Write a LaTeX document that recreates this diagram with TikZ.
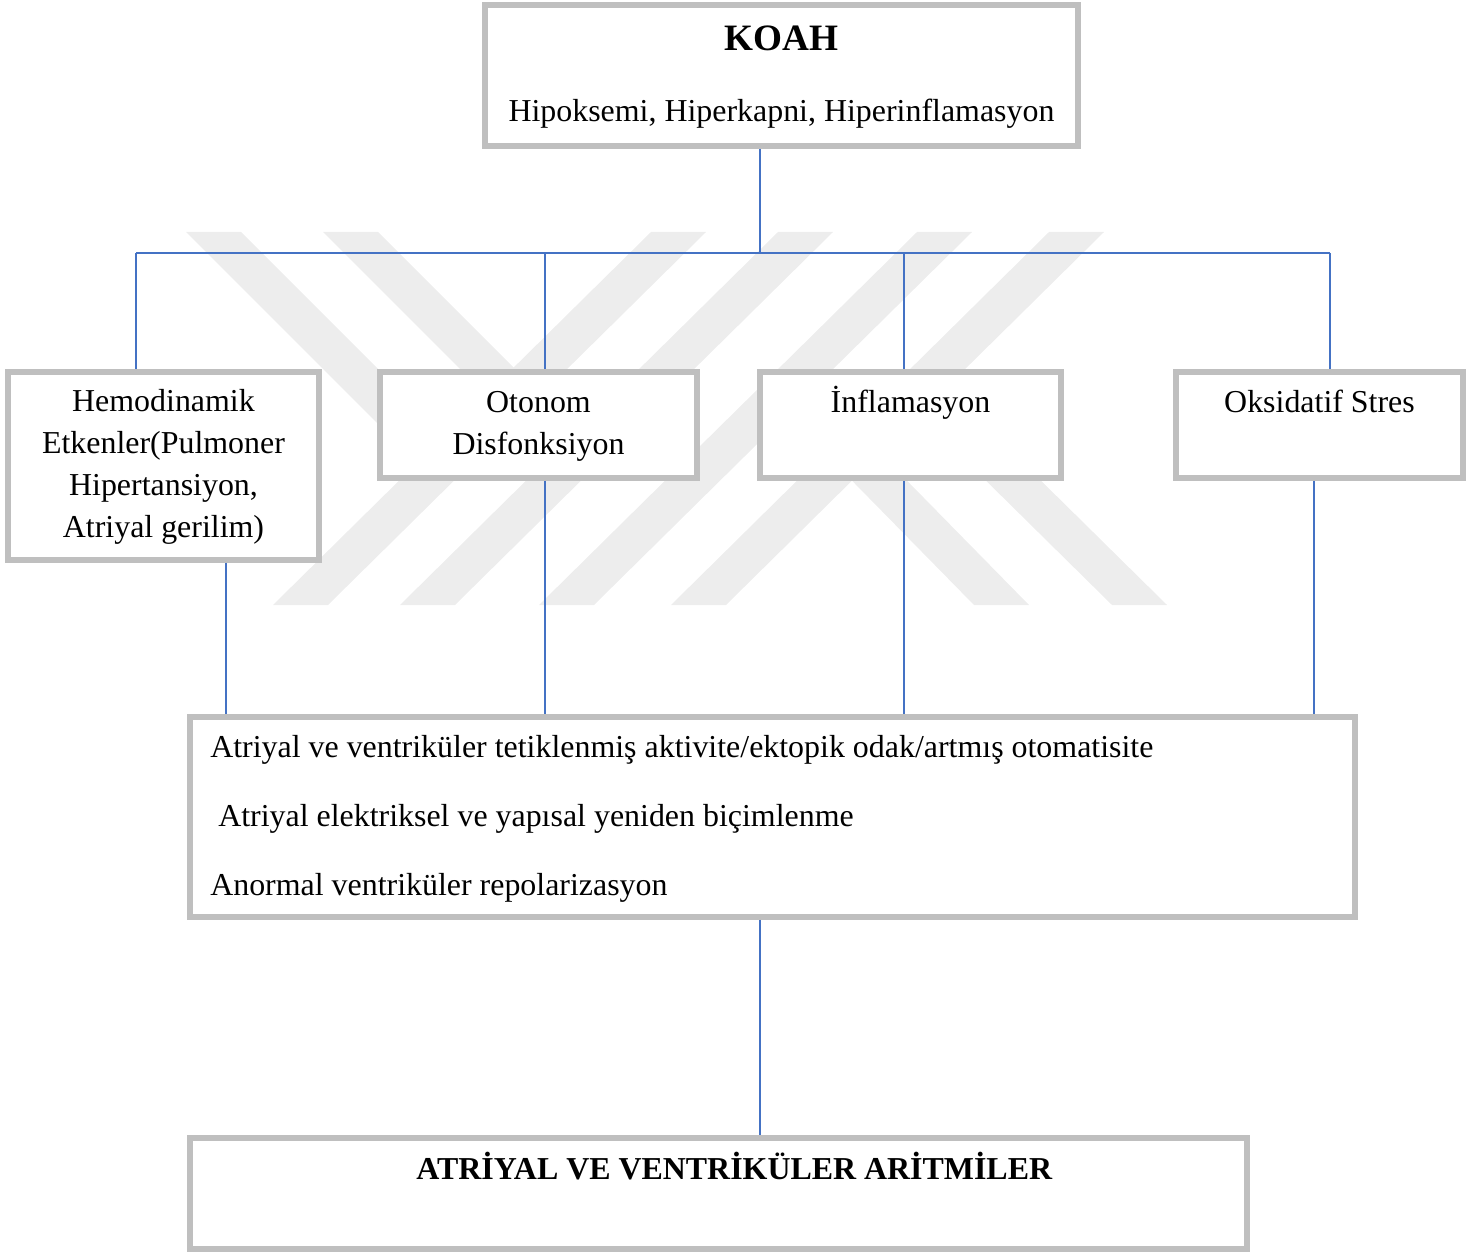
\documentclass[tikz,border=0pt]{standalone}
\usepackage{fontspec}
\setmainfont{Liberation Serif}
\usetikzlibrary{calc}

\definecolor{kenar}{HTML}{BFBFBF}
\definecolor{hat}{HTML}{4472C4}
\definecolor{filigran}{HTML}{EDEDED}

\tikzset{
  kutu/.style={draw=kenar, line width=2.2pt, fill=white, align=center, inner sep=0pt,
    font=\fontsize{12}{15.8}\selectfont},
  bag/.style={draw=hat, line width=0.6pt}
}

\begin{document}
\begin{tikzpicture}[x=0.376pt, y=-0.376pt]
    \useasboundingbox (0,0) rectangle (1469,1252);
    % filigran
    \foreach \t in {651,778,917,1049}
        \fill[filigran] (\t,232) -- ++(55,0) -- ++(-378,373) -- ++(-55,0) -- cycle;
    \fill[filigran] (186,232) -- (241,232) -- (472,463) -- (417,463) -- cycle;
    \fill[filigran] (323,232) -- (378,232) -- (604,458) -- (549,458) -- cycle;
    \fill[filigran] (762,389) -- (817,389) -- (1029,605) -- (974,605) -- cycle;
    \fill[filigran] (893,389) -- (948,389) -- (1167,605) -- (1112,605) -- cycle;
    % kutular
    \node[kutu, minimum width=223pt, minimum height=53pt] (koah) at (781.5,75.5)
        {\rule{0pt}{10.5pt}{\fontsize{14}{16}\bfseries KOAH}\\[10.9pt]Hipoksemi, Hiperkapni, Hiperinflamasyon};
    \node[kutu, minimum width=117pt, minimum height=70.7pt] (hemo) at (163.5,466)
        {\strut Hemodinamik\\Etkenler(Pulmoner\\Hipertansiyon,\\Atriyal gerilim)\strut};
    \node[kutu, minimum width=119.2pt, minimum height=39.9pt] (oto) at (538.5,425)
        {\strut Otonom\\Disfonksiyon\strut};
    \node[kutu, minimum width=113.2pt, minimum height=39.9pt] (inf) at (910.5,425)
        {\strut İnflamasyon\\\strut};
    \node[kutu, minimum width=108pt, minimum height=39.9pt] (oks) at (1319.5,425)
        {\strut Oksidatif Stres\\\strut};
    \node[kutu, align=left, text width=422.8pt, inner xsep=7.5pt, minimum height=75.2pt,
        font=\fontsize{12}{26}\selectfont] (orta) at (772.5,817)
        {\spaceskip=0pt\xspaceskip=0pt\rule{0pt}{9.8pt}Atriyal ve ventriküler tetiklenmiş aktivite/ektopik odak/artmış otomatisite\\
         \hspace*{3pt}Atriyal elektriksel ve yapısal yeniden biçimlenme\\
         Anormal ventriküler repolarizasyon};
    \node[kutu, minimum width=397.5pt, minimum height=41.8pt] (sonuc) at (718.5,1193.5)
        {\strut\hspace*{12pt}\textbf{ATRİYAL VE VENTRİKÜLER ARİTMİLER}\\[1pt]\strut};
    % baglantilar
    \coordinate (bus) at (760,253);
    \coordinate (b1) at (136,253);
    \coordinate (b2) at (545,253);
    \coordinate (b3) at (904,253);
    \coordinate (b4) at (1330,253);
    \draw[bag] (koah.south -| bus) -- (bus);
    \draw[bag] (b1) -- (b4);
    \draw[bag] (b1) -- (b1 |- hemo.north);
    \draw[bag] (b2) -- (b2 |- oto.north);
    \draw[bag] (b3) -- (b3 |- inf.north);
    \draw[bag] (b4) -- (b4 |- oks.north);
    \coordinate (a1) at (226,700);
    \coordinate (a4) at (1314,700);
    \draw[bag] (hemo.south -| a1) -- (orta.north -| a1);
    \draw[bag] (oto.south -| b2) -- (orta.north -| b2);
    \draw[bag] (inf.south -| b3) -- (orta.north -| b3);
    \draw[bag] (oks.south -| a4) -- (orta.north -| a4);
    \draw[bag] (orta.south -| bus) -- (sonuc.north -| bus);
\end{tikzpicture}
\end{document}
